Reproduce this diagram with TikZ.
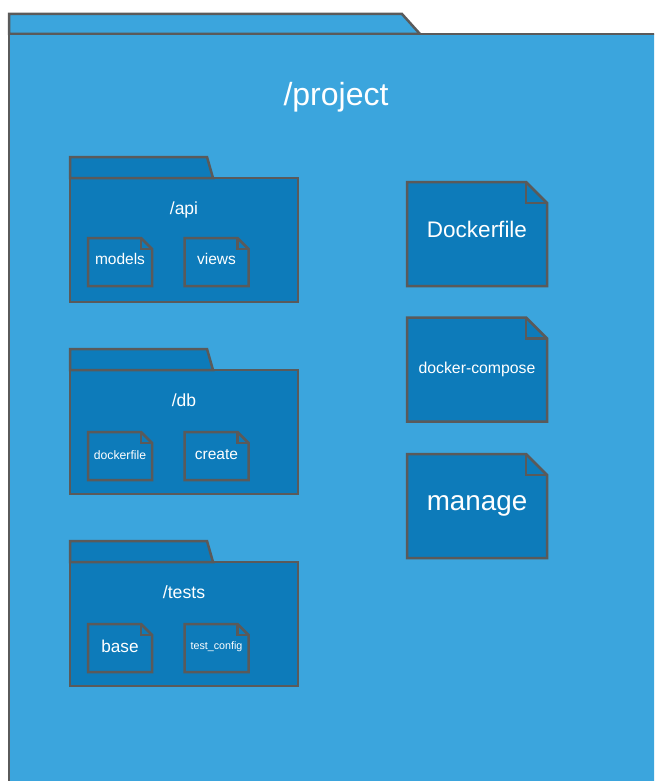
\documentclass[tikz,border=0pt]{standalone}
\usepackage{fontspec}
\setmainfont{Liberation Sans}
\definecolor{outerblue}{HTML}{3BA5DD}
\definecolor{innerblue}{HTML}{0D7BBA}
\definecolor{edgegrey}{HTML}{5A5A5A}

% folder package: name, top edge of body, label, label size
\newcommand\folderpkg[4]{%
  \node[folderbody, anchor=north west] (#1) at (70,#2) {};
  \draw[outline, fill=innerblue] (#1.north west) -- ++(0,-21) -- ++(137,0) -- ++(6,21) -- cycle;
  \node[lbl, font=\fontsize{#4}{#4}\selectfont, anchor=base] (#1-label) at (184,{#2+36}) {#3};
}
% dog-eared file: name, centre x, centre y, width, height, fold size
\newcommand\docfile[6]{%
  \node[docbody, minimum width=#4pt, minimum height=#5pt] (#1) at (#2,#3) {};
  \draw[outline, fill=innerblue] (#1.north west) -- ([xshift=-#6pt]#1.north east)
    -- ([yshift=-#6pt]#1.north east) -- (#1.south east) -- (#1.south west) -- cycle;
  \draw[outline] ([xshift=-#6pt]#1.north east) -- ++(0,#6) -- ++(#6,0);
}

\begin{document}
\begin{tikzpicture}[x=1pt, y=-1pt,
  outline/.style={draw=edgegrey, line width=2.5pt, line join=miter},
  folderbody/.style={draw=edgegrey, line width=2.5pt, fill=innerblue,
    minimum width=228pt, minimum height=124pt, inner sep=0pt, outer sep=0pt},
  docbody/.style={inner sep=0pt, outer sep=0pt},
  lbl/.style={text=white, inner sep=0pt}]
\useasboundingbox (0,0) rectangle (654,781);

% outer package /project
\begin{scope}
  \clip (0,0) rectangle (654,781);
  \draw[outline, fill=outerblue] (9,34) -- (9,14) -- (402,14) -- (420,34) -- cycle;
  \node[draw=edgegrey, line width=2.5pt, fill=outerblue, inner sep=0pt, outer sep=0pt,
    minimum width=700pt, minimum height=800pt, anchor=north west] (project) at (9,34) {};
\end{scope}
\node[lbl, font=\fontsize{32}{32}\selectfont, anchor=base] (project-label) at (336,106) {/project};

% /api
\folderpkg{api}{178}{/api}{17.5}
\docfile{models}{120}{262}{64}{48}{11}
\docfile{views}{216.5}{262}{64}{48}{11}
\node[lbl, font=\fontsize{15.5}{15.5}\selectfont, anchor=base] (models-text) at (120,264.5) {models};
\node[lbl, font=\fontsize{15.5}{15.5}\selectfont, anchor=base] (views-text) at (216.5,264.5) {views};

% /db
\folderpkg{db}{370}{/db}{17.5}
\docfile{dbdocker}{120}{456}{64}{48}{11}
\docfile{create}{216.5}{456}{64}{48}{11}
\node[lbl, font=\fontsize{12.2}{12.2}\selectfont, anchor=base] (dbdocker-text) at (120,459) {dockerfile};
\node[lbl, font=\fontsize{15.5}{15.5}\selectfont, anchor=base] (create-text) at (216.5,459) {create};

% /tests
\folderpkg{tests}{562}{/tests}{17.7}
\docfile{base}{120}{648}{64}{48}{11}
\docfile{testcfg}{216.5}{648}{64}{48}{11}
\node[lbl, font=\fontsize{17.2}{17.2}\selectfont, anchor=base] (base-text) at (120,652.7) {base};
\node[lbl, font=\fontsize{10.7}{10.7}\selectfont, anchor=base] (testcfg-text) at (216.5,649) {test\_config};

% top-level files
\docfile{dockerfile}{477}{234}{140}{104}{21}
\docfile{compose}{477}{369.5}{140}{104}{21}
\docfile{manage}{477}{506}{140}{104}{21}
\node[lbl, font=\fontsize{22.5}{22.5}\selectfont, anchor=base] (dockerfile-text) at (477,237) {Dockerfile};
\node[lbl, font=\fontsize{15.8}{15.8}\selectfont, anchor=base] (compose-text) at (477,373.5) {docker-compose};
\node[lbl, font=\fontsize{27.8}{27.8}\selectfont, anchor=base] (manage-text) at (477,510) {manage};
\end{tikzpicture}
\end{document}
